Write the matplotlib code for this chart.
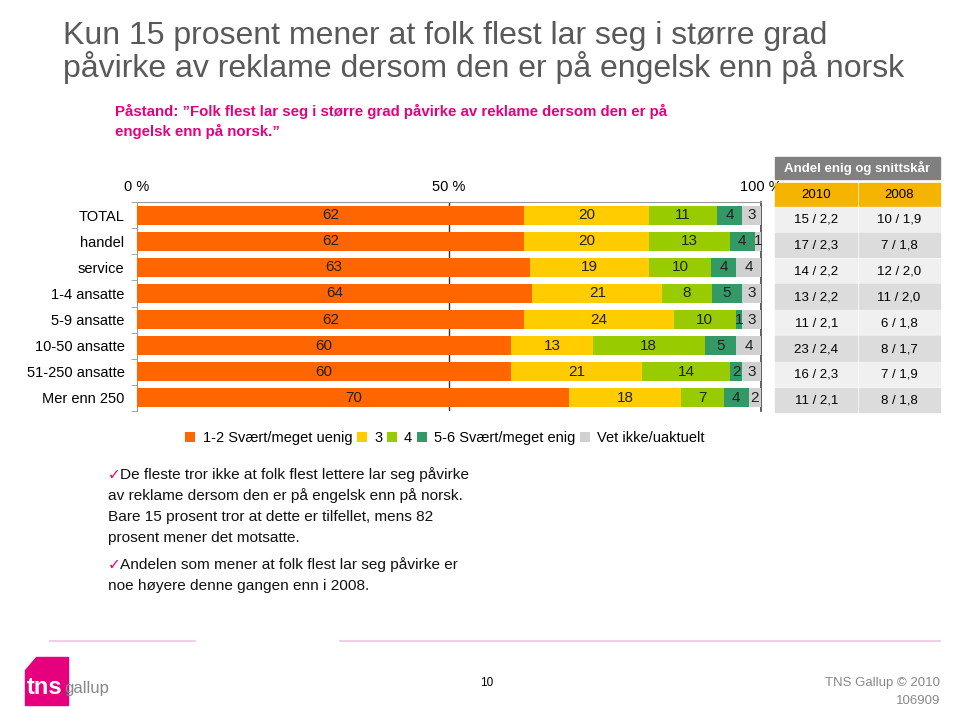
import numpy as np
import matplotlib
matplotlib.use("Agg")
import matplotlib.pyplot as plt
from matplotlib.patches import Rectangle, Polygon

plt.rcParams['font.family'] = ['Liberation Sans', 'DejaVu Sans']

# data
categories = ["TOTAL", "handel", "service", "1-4 ansatte", "5-9 ansatte",
              "10-50 ansatte", "51-250 ansatte", "Mer enn 250"]
uenig = [62, 62, 63, 64, 62, 60, 60, 70]
tre = [20, 20, 19, 21, 24, 13, 21, 18]
fire = [11, 13, 10, 8, 10, 18, 14, 7]
enig = [4, 4, 4, 5, 1, 5, 2, 4]
vet_ikke = [3, 1, 4, 3, 3, 4, 3, 2]
series_names = ["1-2 Svært/meget uenig", "3", "4", "5-6 Svært/meget enig", "Vet ikke/uaktuelt"]
colors = ["#FF6600", "#FFCC00", "#99CC00", "#339966", "#D0D0D0"]
tab_2010 = ["15 / 2,2", "17 / 2,3", "14 / 2,2", "13 / 2,2", "11 / 2,1", "23 / 2,4", "16 / 2,3", "11 / 2,1"]
tab_2008 = ["10 / 1,9", "7 / 1,8", "12 / 2,0", "11 / 2,0", "6 / 1,8", "8 / 1,7", "7 / 1,9", "8 / 1,8"]

W, H = 960, 707
fig = plt.figure(figsize=(W / 100, H / 100), dpi=100)

ax = fig.add_axes([137 / W, 1 - 411 / H, 624 / W, 209 / H])
data = np.array([uenig, tre, fire, enig, vet_ikke], dtype=float)
shares = data / data.sum(axis=0) * 100
y = np.arange(len(categories))
left = np.zeros(len(categories))
for i in range(len(series_names)):
    ax.barh(y, shares[i], left=left, height=0.73, color=colors[i],
            label=series_names[i], zorder=3)
    for j in range(len(categories)):
        ax.text(left[j] + shares[i][j] / 2, y[j], "%d" % data[i][j],
                ha="center", va="center", fontsize=11, color="#222222", zorder=4)
    left += shares[i]

ax.set_xlim(0, 100)
ax.set_ylim(len(categories) - 0.5, -0.5)
ax.axvline(50, color="#333333", lw=1, zorder=1)
ax.xaxis.tick_top()
ax.set_xticks([0, 50, 100])
ax.set_xticklabels(["0 %", "50 %", "100 %"], fontsize=10.5)
ax.tick_params(axis="x", length=0, pad=6)
ax.set_yticks(y)
ax.set_yticklabels(categories, fontsize=10.5)
ax.tick_params(axis="y", length=0, pad=9)
ax.set_yticks(np.arange(-0.5, len(categories), 1), minor=True)
ax.tick_params(axis="y", which="minor", length=4, color="#999999")
ax.spines["left"].set_color("#999999")
ax.spines["top"].set_color("#999999")
ax.spines["bottom"].set_visible(False)
ax.spines["right"].set_color("#444444")
ax.spines["right"].set_linewidth(1.2)

leg = fig.legend(loc="center", bbox_to_anchor=(445 / W, 1 - 438 / H), ncol=5,
                 frameon=False, fontsize=10.5, handlelength=0.7, handleheight=0.7,
                 handletextpad=0.5, columnspacing=0.3)

# overlay in pixel coordinates
ov = fig.add_axes([0, 0, 1, 1], zorder=5)
ov.set_xlim(0, W)
ov.set_ylim(H, 0)
ov.axis("off")
ov.patch.set_alpha(0)

ov.text(63, 36, "Kun 15 prosent mener at folk flest lar seg i større grad",
        fontsize=23, color="#595959", va="center")
ov.text(63, 68, "påvirke av reklame dersom den er på engelsk enn på norsk",
        fontsize=23, color="#595959", va="center")
ov.text(115, 111, "Påstand: \u201dFolk flest lar seg i større grad påvirke av reklame dersom den er på",
        fontsize=10.8, color="#E6007E", fontweight="bold", va="center")
ov.text(115, 131, "engelsk enn på norsk.\u201d", fontsize=10.8, color="#E6007E",
        fontweight="bold", va="center")

# table
tx0, tx1, tmid = 775, 940, 858
ov.add_patch(Rectangle((tx0, 157), tx1 - tx0, 22, color="#808080", zorder=2))
ov.text((tx0 + tx1) / 2, 168, "Andel enig og snittskår", color="white",
        fontsize=9.5, fontweight="bold", ha="center", va="center", zorder=3)
ov.add_patch(Rectangle((tx0, 183), tmid - tx0 - 1, 23, color="#F5B400", zorder=2))
ov.add_patch(Rectangle((tmid + 1, 183), tx1 - tmid - 1, 23, color="#F5B400", zorder=2))
ov.text((tx0 + tmid) / 2, 194.5, "2010", fontsize=9.5, ha="center", va="center", zorder=3)
ov.text((tmid + tx1) / 2, 194.5, "2008", fontsize=9.5, ha="center", va="center", zorder=3)
for j in range(len(tab_2010)):
    top = 207 + j * 25.8
    fc = "#F0F0F0" if j % 2 == 0 else "#DCDCDC"
    ov.add_patch(Rectangle((tx0, top), tmid - tx0 - 1, 24.5, color=fc, zorder=2))
    ov.add_patch(Rectangle((tmid + 1, top), tx1 - tmid - 1, 24.5, color=fc, zorder=2))
    ov.text((tx0 + tmid) / 2, top + 13, tab_2010[j], fontsize=9.5, ha="center", va="center", zorder=3)
    ov.text((tmid + tx1) / 2, top + 13, tab_2008[j], fontsize=9.5, ha="center", va="center", zorder=3)

# bullet text
lines = [
    (475, True, "De fleste tror ikke at folk flest lettere lar seg påvirke"),
    (496, False, "av reklame dersom den er på engelsk enn på norsk."),
    (517, False, "Bare 15 prosent tror at dette er tilfellet, mens 82"),
    (538, False, "prosent mener det motsatte."),
    (565, True, "Andelen som mener at folk flest lar seg påvirke er"),
    (586, False, "noe høyere denne gangen enn i 2008."),
]
for yy, check, txt in lines:
    x = 108
    if check:
        ov.text(x, yy, "\u2713", fontsize=11, color="#E6007E", va="center",
                fontfamily="DejaVu Sans")
        x = 120
    ov.text(x, yy, txt, fontsize=11.1, color="#111111", va="center")

# footer
ov.plot([50, 195], [641, 641], color="#F0D0E4", lw=1.5)
ov.plot([340, 940], [641, 641], color="#F0D0E4", lw=1.5)
ov.add_patch(Polygon([[36, 657], [68, 657], [68, 705], [25, 705], [25, 670]],
                     closed=True, color="#E6007E", zorder=2))
ov.text(27, 688, "tns", fontsize=17, fontweight="bold", color="white", va="center", zorder=3)
ov.text(64, 689, "gallup", fontsize=12, color="#888888", va="center", zorder=3)
ov.text(487, 683, "10", fontsize=8.5, ha="center", va="center")
ov.text(940, 683, "TNS Gallup © 2010", fontsize=9.5, color="#888888", ha="right", va="center")
ov.text(940, 701, "106909", fontsize=9.5, color="#888888", ha="right", va="center")

fig.savefig("out.png", dpi=100)
